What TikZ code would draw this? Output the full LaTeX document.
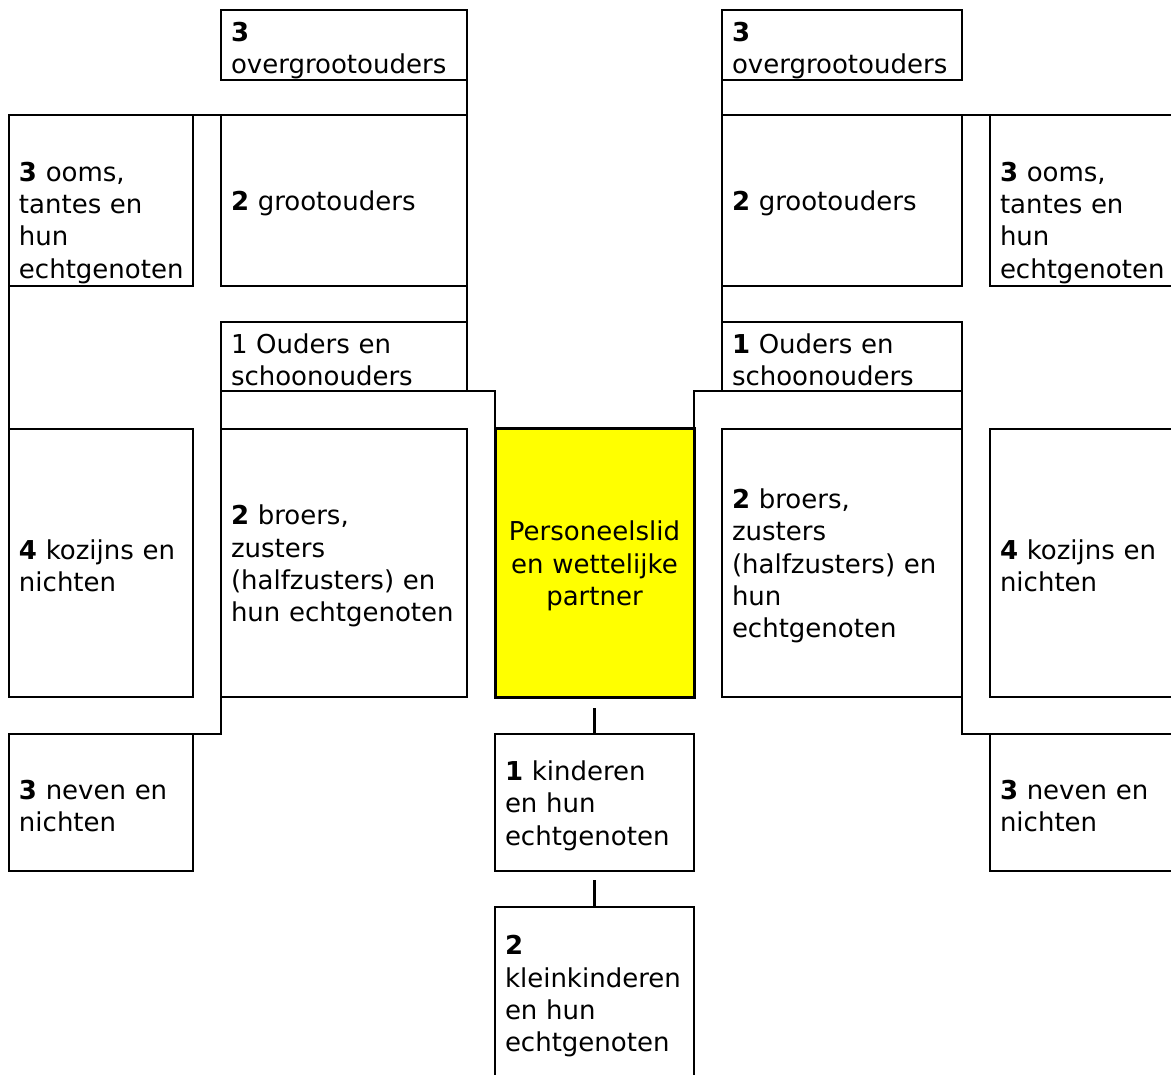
\documentclass[tikz,border=0pt]{standalone}
\usepackage{fontspec}
\setmainfont{DejaVu Sans}
\hyphenpenalty=10000
\exhyphenpenalty=10000
\definecolor{egoyellow}{RGB}{255,255,0}

\begin{document}
\begin{tikzpicture}[
  x=1pt, y=-1pt,
  box/.style={draw, line width=2.2pt, anchor=north west, inner xsep=10pt, inner ysep=0pt, outer sep=0pt, align=left,
    font=\fontsize{26}{32.3}\selectfont, execute at begin node={\rule{0pt}{#1}}},
  box/.default=26pt,
  link/.style={line width=2.2pt}
]
\useasboundingbox (0,0) rectangle (1171,1075);

\node[box=31pt, text width=226pt, minimum height=70pt] (ogL) at (221,10) {\textbf{3}\\overgrootouders};
\node[box, text width=226pt, minimum height=171pt] (gL) at (221,115) {\textbf{2} grootouders};
\node[box, text width=226pt, minimum height=69pt] (oudL) at (221,322) {1 Ouders en\\schoonouders};
\node[box, text width=226pt, minimum height=268pt] (brL) at (221,429) {\textbf{2} broers,\\zusters\\(halfzusters) en\\hun~echtgenoten};
\node[box=64pt, text width=164pt, minimum height=171pt] (oomsL) at (9,115) {\textbf{3} ooms,\\tantes en\\hun\\echtgenoten};
\node[box, text width=164pt, minimum height=268pt] (kozL) at (9,429) {\textbf{4} kozijns en\\nichten};
\node[box, text width=164pt, minimum height=137pt] (nevL) at (9,734) {\textbf{3} neven en\\nichten};

\node[box, align=center, fill=egoyellow, line width=3pt, text width=179pt, minimum height=268pt] (ego) at (495,429) {Personeelslid\\en wettelijke\\partner};
\node[box, text width=179pt, minimum height=137pt] (kind) at (495,734) {\textbf{1} kinderen\\en hun\\echtgenoten};
\node[box, text width=179pt, minimum height=172pt] (klein) at (495,907) {\textbf{2}\\kleinkinderen\\en hun\\echtgenoten};

\node[box=31pt, text width=220pt, minimum height=70pt] (ogR) at (722,10) {\textbf{3}\\overgrootouders};
\node[box, text width=220pt, minimum height=171pt] (gR) at (722,115) {\textbf{2} grootouders};
\node[box, text width=220pt, minimum height=69pt] (oudR) at (722,322) {\textbf{1} Ouders en\\schoonouders};
\node[box, text width=220pt, minimum height=268pt] (brR) at (722,429) {\textbf{2} broers,\\zusters\\(halfzusters) en\\hun\\echtgenoten};
\node[box=64pt, text width=164pt, minimum height=171pt] (oomsR) at (990,115) {\textbf{3} ooms,\\tantes en\\hun\\echtgenoten};
\node[box, text width=164pt, minimum height=268pt] (kozR) at (990,429) {\textbf{4} kozijns en\\nichten};
\node[box, text width=164pt, minimum height=137pt] (nevR) at (990,734) {\textbf{3} neven en\\nichten};

\draw[link] (ogL.south east) -- (gL.north east);
\draw[link] (oomsL.north east) -- (gL.north west);
\draw[link] (gL.south east) -- (oudL.north east);
\draw[link] (oudL.south west) -| (ego.north west);
\draw[link] (oudL.south west) -- (brL.north west);
\draw[link] (brL.south west) |- (nevL.north east);
\draw[link] (oomsL.south west) -- (kozL.north west);

\draw[link] (ogR.south west) -- (gR.north west);
\draw[link] (gR.north east) -- (oomsR.north west);
\draw[link] (gR.south west) -- (oudR.north west);
\draw[link] (oudR.south east) -| (ego.north east);
\draw[link] (oudR.south east) -- (brR.north east);
\draw[link] (brR.south east) |- (nevR.north west);

\draw[link, shorten <=11pt] (ego.south) -- (kind.north);
\draw[link, shorten <=9pt] (kind.south) -- (klein.north);
\end{tikzpicture}
\end{document}
